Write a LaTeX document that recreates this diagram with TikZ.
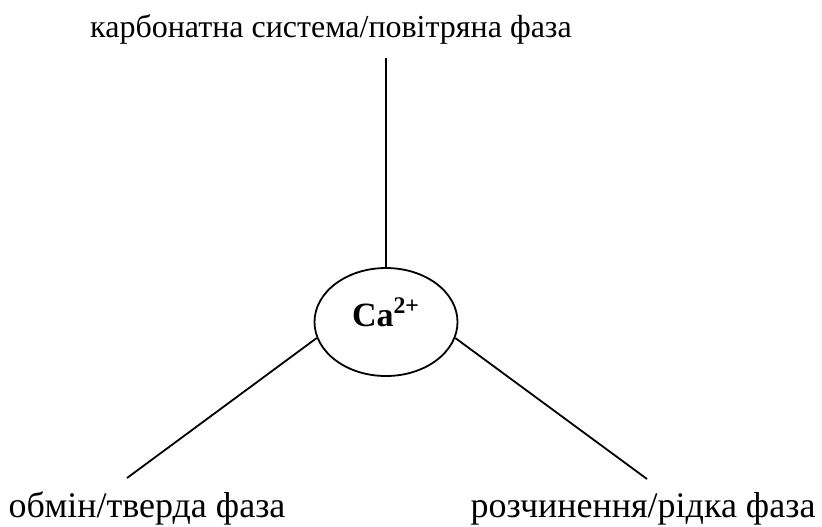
\documentclass[tikz,border=0pt]{standalone}
\usepackage{fontspec}
\setmainfont{Liberation Serif}
\usetikzlibrary{shapes.geometric}
\tikzset{
  phase/.style={anchor=base, font=\fontsize{16}{19}\selectfont, inner sep=0pt},
  lowphase/.style={phase, font=\fontsize{18}{21}\selectfont},
  ionbox/.style={draw, ellipse, minimum width=71.5pt, minimum height=54pt, inner sep=0pt}
}
\begin{document}
\begin{tikzpicture}[x=0.5pt, y=-0.5pt, line width=0.9pt]
            \useasboundingbox (0,0) rectangle (822,526);
            \node[ionbox] (ion) at (386,322) {\raisebox{-2pt}[0pt][0pt]{\fontsize{17}{20}\selectfont\textbf{Ca\textsuperscript{2+}}}};
            \node[phase] (carb) at (331,37) {карбонатна система/повітряна фаза};
            \node[lowphase] (solid) at (147,517) {обмін/тверда фаза};
            \node[lowphase] (liquid) at (643,517) {розчинення/рідка фаза};
            \coordinate (top) at (386,58);
            \coordinate (left) at (127,478);
            \coordinate (right) at (647,479);
            \draw (ion.north) -- (top);
            \draw (ion.193) -- (left);
            \draw (ion.347) -- (right);
        \end{tikzpicture}
\end{document}
